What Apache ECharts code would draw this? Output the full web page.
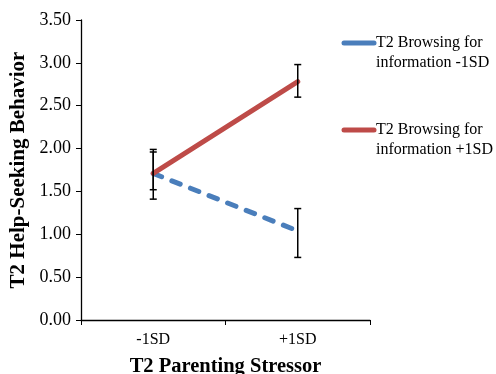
<!DOCTYPE html>
<html><head><meta charset="utf-8">
<script src="https://cdn.jsdelivr.net/npm/echarts@6/dist/echarts.min.js"></script>
<style>html,body{margin:0;padding:0;background:#fff}#c{width:496px;height:374px}</style>
</head><body><div id="c"></div>
<script>
const categories = ['-1SD', '+1SD'];
const seriesNames = ['T2 Browsing for\ninformation -1SD', 'T2 Browsing for\ninformation +1SD'];
const lowMeans = [1.71, 1.04];
const highMeans = [1.71, 2.78];
const lowErrLow = [1.52, 0.73];
const lowErrHigh = [1.96, 1.30];
const highErrLow = [1.41, 2.60];
const highErrHigh = [1.99, 2.98];
const yTicks = { min: 0, max: 3.5, interval: 0.5 };

const BLUE = '#4A7EBB', RED = '#BE4B48';
const FONT = '"Liberation Serif", "Times New Roman", serif';

function errData(lo, hi) { return categories.map((c, i) => [i, lo[i], hi[i]]); }
function renderErr(params, api) {
  const x = api.value(0);
  const top = api.coord([x, api.value(2)]);
  const bot = api.coord([x, api.value(1)]);
  const cap = 3.5;
  const st = { stroke: '#000', lineWidth: 1.5 };
  return { type: 'group', children: [
    { type: 'line', shape: { x1: top[0], y1: top[1], x2: bot[0], y2: bot[1] }, style: st },
    { type: 'line', shape: { x1: top[0] - cap, y1: top[1], x2: top[0] + cap, y2: top[1] }, style: st },
    { type: 'line', shape: { x1: bot[0] - cap, y1: bot[1], x2: bot[0] + cap, y2: bot[1] }, style: st }
  ]};
}

const chart = echarts.init(document.getElementById('c'), null, { renderer: 'canvas' });
const legendItems = [
  { color: BLUE, y: 43, text: seriesNames[0] },
  { color: RED, y: 130, text: seriesNames[1] }
];
chart.setOption({
  animation: false,
  grid: { left: 81, right: 126, top: 20, bottom: 54, containLabel: false, outerBoundsMode: 'none' },
  xAxis: {
    type: 'category', data: categories, boundaryGap: true,
    axisLine: { lineStyle: { color: '#000', width: 1.3 } },
    axisTick: { show: true, length: 5, lineStyle: { color: '#000' } },
    axisLabel: { color: '#000', fontFamily: FONT, fontSize: 16, margin: 12 },
    name: 'T2 Parenting Stressor', nameLocation: 'middle', nameGap: 36,
    nameTextStyle: { color: '#000', fontFamily: FONT, fontSize: 20.5, fontWeight: 'bold' }
  },
  yAxis: {
    type: 'value', min: yTicks.min, max: yTicks.max, interval: yTicks.interval,
    splitLine: { show: false },
    axisLine: { show: true, lineStyle: { color: '#000', width: 1.3 } },
    axisTick: { show: true, length: 5, lineStyle: { color: '#000' } },
    axisLabel: { color: '#000', fontFamily: FONT, fontSize: 18, margin: 10, formatter: v => v.toFixed(2) },
    name: 'T2 Help-Seeking Behavior', nameLocation: 'middle', nameGap: 50, nameRotate: 90,
    nameTextStyle: { color: '#000', fontFamily: FONT, fontSize: 21, fontWeight: 'bold' }
  },
  graphic: legendItems.flatMap(it => [
    { type: 'line', shape: { x1: 344, y1: it.y, x2: 374, y2: it.y },
      style: { stroke: it.color, lineWidth: 5, lineCap: 'round' } },
    { type: 'text', left: 376, top: it.y - 10,
      style: { text: it.text, fill: '#000', font: '16px ' + FONT, lineHeight: 20 } }
  ]),
  series: [
    { name: seriesNames[0], type: 'line', data: lowMeans, symbol: 'none',
      lineStyle: { color: BLUE, width: 5, type: [9, 11], cap: 'round' }, z: 2 },
    { name: seriesNames[1], type: 'line', data: highMeans, symbol: 'none',
      lineStyle: { color: RED, width: 5, cap: 'round' }, z: 3 },
    { type: 'custom', data: errData(lowErrLow, lowErrHigh), renderItem: renderErr, z: 5 },
    { type: 'custom', data: errData(highErrLow, highErrHigh), renderItem: renderErr, z: 5 }
  ]
});
</script></body></html>
